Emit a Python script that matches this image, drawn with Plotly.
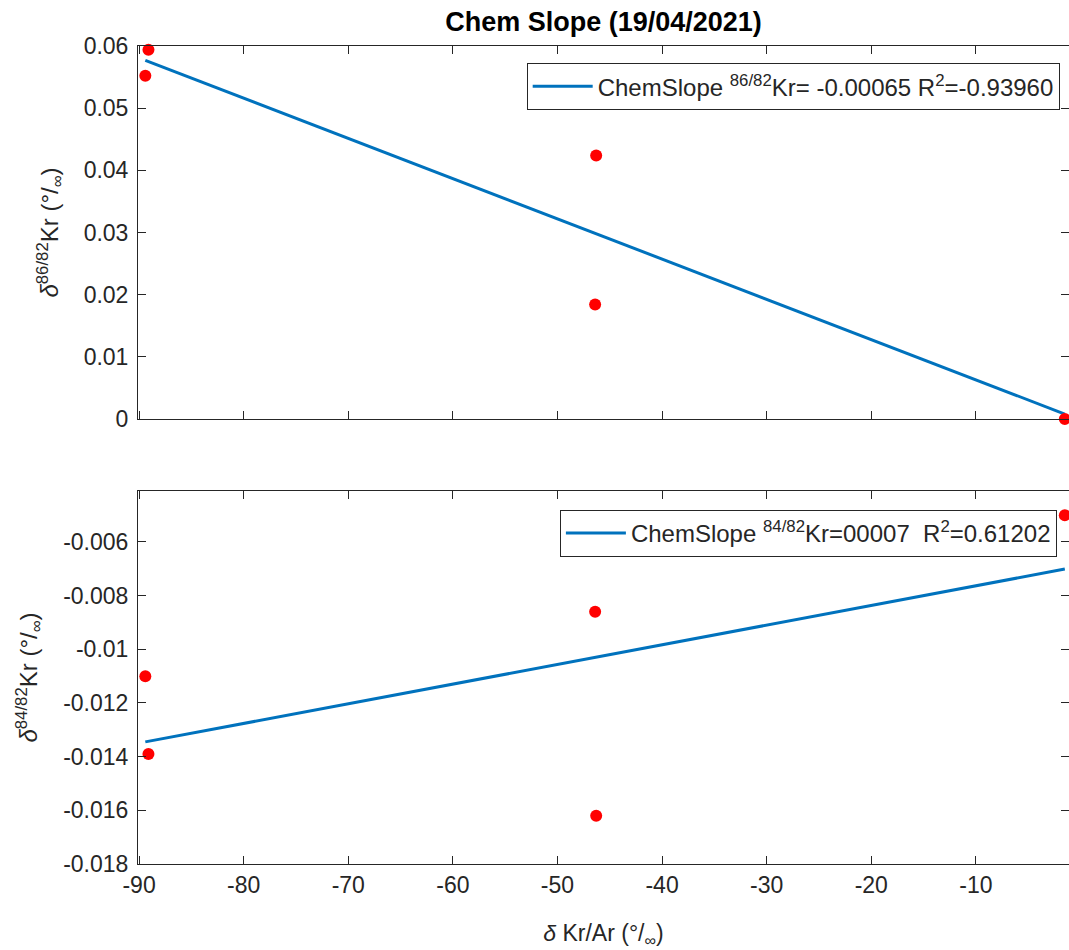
import plotly.graph_objects as go
from plotly.subplots import make_subplots

# Data
kr_ar = [-89.4, -89.1, -46.3, -46.4, -1.5]
d86 = [0.0552, 0.0594, 0.0424, 0.0184, 0.0]
d84 = [-0.0110, -0.0139, -0.0162, -0.0086, -0.0050]

fit_x = [-89.4, -1.5]
fit86 = [0.0577, 0.0008]
fit84 = [-0.01345, -0.00701]

x_ticks = [-90, -80, -70, -60, -50, -40, -30, -20, -10]
x_labels = ["-90", "-80", "-70", "-60", "-50", "-40", "-30", "-20", "-10"]
y86_ticks = [0, 0.01, 0.02, 0.03, 0.04, 0.05, 0.06]
y86_labels = ["0", "0.01", "0.02", "0.03", "0.04", "0.05", "0.06"]
y84_ticks = [-0.018, -0.016, -0.014, -0.012, -0.010, -0.008, -0.006]
y84_labels = ["-0.018", "-0.016", "-0.014", "-0.012", "-0.01", "-0.008", "-0.006"]

legend86 = "ChemSlope <sup>86/82</sup>Kr= -0.00065 R<sup>2</sup>=-0.93960"
legend84 = "ChemSlope <sup>84/82</sup>Kr=00007 \u00a0R<sup>2</sup>=0.61202"

FONT = "Liberation Sans, Arial, Helvetica, sans-serif"
AX = "#262626"
BLUE = "#0072BD"
FS = 23

fig = make_subplots(rows=2, cols=1, shared_xaxes=False, vertical_spacing=72 / 818)

fig.add_trace(go.Scatter(x=fit_x, y=fit86, mode="lines", line=dict(color=BLUE, width=3),
                         name=legend86, legend="legend", cliponaxis=False), row=1, col=1)
fig.add_trace(go.Scatter(x=kr_ar, y=d86, mode="markers",
                         marker=dict(color="#FF0000", size=12, line=dict(width=0)),
                         showlegend=False, cliponaxis=False), row=1, col=1)
fig.add_trace(go.Scatter(x=fit_x, y=fit84, mode="lines", line=dict(color=BLUE, width=3),
                         name=legend84, legend="legend2", cliponaxis=False), row=2, col=1)
fig.add_trace(go.Scatter(x=kr_ar, y=d84, mode="markers",
                         marker=dict(color="#FF0000", size=12, line=dict(width=0)),
                         showlegend=False, cliponaxis=False), row=2, col=1)

xcommon = dict(range=[-90.1, -1.1], tickvals=x_ticks, ticktext=x_labels,
               ticks="inside", ticklen=8, tickcolor=AX, tickwidth=1,
               showline=True, linecolor=AX, linewidth=1, mirror="ticks",
               showgrid=False, zeroline=False,
               tickfont=dict(family=FONT, size=FS, color=AX))
fig.update_xaxes(**xcommon)
fig.update_xaxes(showticklabels=False, row=1, col=1)
fig.update_xaxes(title=dict(text="<i>δ</i> Kr/Ar (°/<sub>∞</sub>)",
                            font=dict(family=FONT, size=FS, color=AX), standoff=28),
                 row=2, col=1)

ycommon = dict(ticks="inside", ticklen=8, tickcolor=AX, tickwidth=1,
               showline=True, linecolor=AX, linewidth=1, mirror="ticks",
               showgrid=False, zeroline=False, ticklabelstandoff=4,
               tickfont=dict(family=FONT, size=FS, color=AX))
fig.update_yaxes(**ycommon)
fig.update_yaxes(range=[0, 0.06], tickvals=y86_ticks, ticktext=y86_labels,
                 title=dict(text="<i>δ</i><sup>86/82</sup>Kr (°/<sub>∞</sub>)",
                            font=dict(family=FONT, size=24, color=AX), standoff=18),
                 row=1, col=1)
fig.update_yaxes(range=[-0.018, -0.0041], tickvals=y84_ticks, ticktext=y84_labels,
                 title=dict(text="<i>δ</i><sup>84/82</sup>Kr (°/<sub>∞</sub>)",
                            font=dict(family=FONT, size=24, color=AX), standoff=18),
                 row=2, col=1)

legend_style = dict(bgcolor="white", bordercolor=AX, borderwidth=1,
                    font=dict(family=FONT, size=24, color=AX), itemwidth=60,
                    xanchor="right", yanchor="top", xref="paper", yref="paper")

fig.update_layout(
    width=1069, height=950,
    margin=dict(l=138, r=0, t=46, b=86),
    plot_bgcolor="white", paper_bgcolor="white",
    title=dict(text="<b>Chem Slope (19/04/2021)</b>", x=(138 + 1069) / 2 / 1069,
               xanchor="center", y=1 - 22 / 950, yanchor="middle",
               font=dict(family=FONT, size=27, color="black")),
    legend=dict(x=0.99, y=0.979, **legend_style),
    legend2=dict(x=0.987, y=0.433, **legend_style),
)

fig.write_html("out.html", config={"displayModeBar": False},
               post_script="document.body.style.margin='0px';document.body.style.overflow='hidden';")
